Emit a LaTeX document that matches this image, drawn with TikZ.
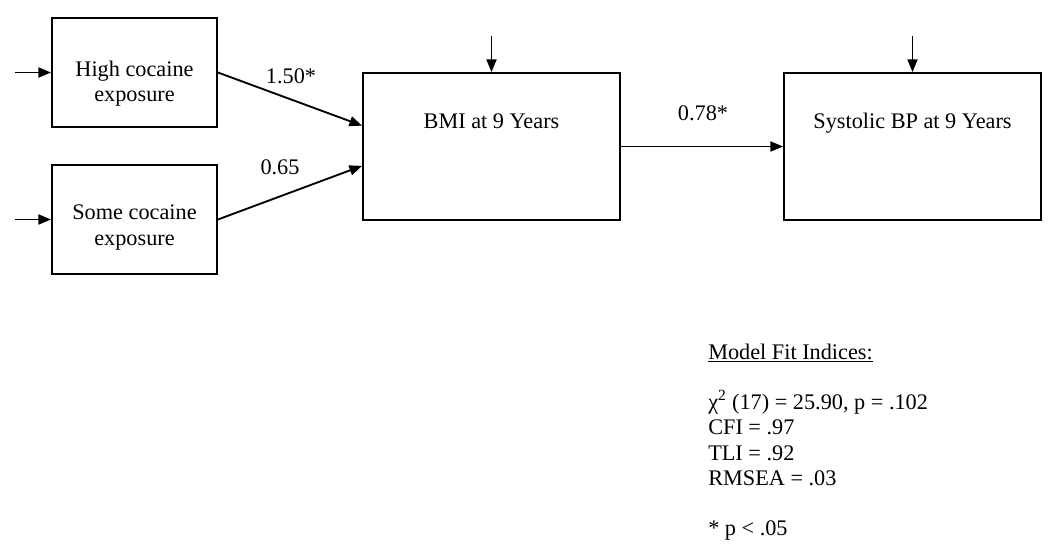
\documentclass[tikz,border=0pt]{standalone}
\usepackage{fontspec}
\setmainfont{Liberation Serif}
\usetikzlibrary{arrows.meta,calc}
\begin{document}
\begin{tikzpicture}[x=0.75pt,y=-0.75pt,
  box/.style={draw=black, line width=1.4pt, inner sep=0pt, rectangle},
  smallbox/.style={box, minimum width=123.75pt, minimum height=81.75pt},
  bigbox/.style={box, minimum width=192.75pt, minimum height=110.25pt},
  txt/.style={font=\fontsize{16.7}{19}\selectfont, inner sep=0pt, anchor=base},
  fit/.style={txt, anchor=base west},
  arr/.style={line width=1.4pt, -{Triangle[length=9.5pt,width=7.5pt]}},
]
\useasboundingbox (0,0) rectangle (1050,553);
% boxes
\node[smallbox] (high) at (134.5,72.5) {};
\node[smallbox] (some) at (134.5,219.5) {};
\node[bigbox] (bmi) at (491.5,146.5) {};
\node[bigbox] (sys) at (912.5,146.5) {};
% box texts
\node[txt] (high1) at (134.5,76) {High cocaine};
\node[txt] (high2) at (134.5,101.5) {exposure};
\node[txt] (some1) at (134.5,219.5) {Some cocaine};
\node[txt] (some2) at (134.5,245) {exposure};
\node[txt] (bmit) at (491.5,128) {BMI at 9 Years};
\node[txt] (syst) at (912.5,128) {Systolic BP at 9 Years};
% free ends
\coordinate (src1) at (15,72.5);
\coordinate (src2) at (15,219.5);
\coordinate (top1) at (491.5,36);
\coordinate (top2) at (912.5,36);
% connectors
\draw[arr] (src1) -- (high.west);
\draw[arr] (src2) -- (some.west);
\draw[arr] (top1) -- (bmi.north);
\draw[arr] (top2) -- (sys.north);
\draw[arr] (high.east) -- ($(bmi.north west)!0.36!(bmi.south west)$);
\draw[arr] (some.east) -- ($(bmi.north west)!0.63!(bmi.south west)$);
\draw[arr] (bmi.east) -- (sys.west);
% path labels
\node[txt] (l1) at (291,83) {1.50*};
\node[txt] (l2) at (280,174) {0.65};
\node[txt] (l3) at (703,120) {0.78*};
% fit indices
\node[fit] (f1) at (708,359) {\underline{Model Fit Indices:}};
\node[fit] (f2) at (708,409) {χ\textsuperscript{2} (17) = 25.90, p = .102};
\node[fit] (f3) at (708,434.5) {CFI = .97};
\node[fit] (f4) at (708,460) {TLI = .92};
\node[fit] (f5) at (708,485) {RMSEA = .03};
\node[fit] (f6) at (708,535.5) {* p < .05};
\end{tikzpicture}
\end{document}
